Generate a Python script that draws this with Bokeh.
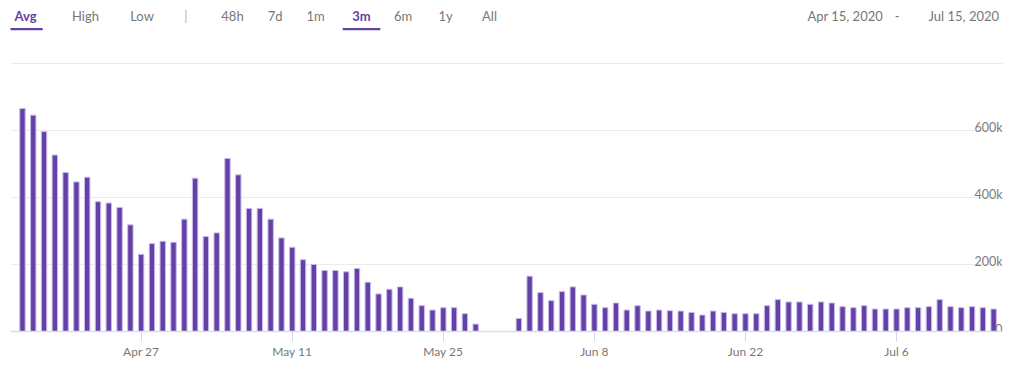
import math
import pandas as pd
from bokeh.plotting import figure
from bokeh.layouts import column
from bokeh.models import Range1d, FixedTicker, ColumnDataSource
from bokeh.core.properties import value
from bokeh.embed import file_html
from bokeh.resources import INLINE

# ---------------- data ----------------
start_date = "2020-04-16"
# average viewers (thousands), one bar per day; None = no data
viewers_k = [
    665, 645, 596, 526, 474, 446, 460, 387, 383, 370,
    318, 230, 262, 269, 266, 335, 457, 283, 294, 516,
    467, 367, 367, 335, 279, 251, 214, 200, 182, 182,
    178, 188, 147, 112, 126, 133, 99, 77, 64, 71,
    71, 53, 22, None, None, None, 39, 165, 116, 92,
    119, 133, 109, 81, 71, 85, 64, 77, 61, 64,
    62, 61, 57, 49, 61, 57, 53, 53, 53, 77,
    95, 88, 88, 81, 88, 85, 74, 71, 77, 67,
    67, 67, 71, 71, 74, 95, 74, 71, 74, 71,
    67,
]
x_tick_dates = ["2020-04-27", "2020-05-11", "2020-05-25", "2020-06-08", "2020-06-22", "2020-07-06"]
x_tick_labels = ["Apr 27", "May 11", "May 25", "Jun 8", "Jun 22", "Jul 6"]
y_ticks = [0, 200000, 400000, 600000]
y_tick_labels = ["0", "200k", "400k", "600k"]
grid_values = [200000, 400000, 600000, 800000]

nav_labels = ["Avg", "High", "Low", "|", "48h", "7d", "1m", "3m", "6m", "1y", "All"]
nav_active = ["Avg", "3m"]
range_labels = ["Apr 15, 2020", "-", "Jul 15, 2020"]

# ---------------- styles / layout ----------------
PURPLE = "#6441a5"
GRAY = "#777777"
FONT = "Lato"
DAY_MS = 86400000.0
W = 1016
FRAME_L, FRAME_R = 10, 1002   # page x of the plot frame (column aligns frames)

dates = pd.date_range(start_date, periods=len(viewers_k), freq="D")
vals = [v * 1000 if v is not None else math.nan for v in viewers_k]
src = ColumnDataSource(data=dict(date=dates, v=vals))

t0 = pd.Timestamp(start_date)
x_start = (t0 - pd.Timedelta(hours=26.6)).timestamp() * 1000
x_end = (t0 + pd.Timedelta(days=90.82)).timestamp() * 1000

# ---- navigation bar (pixel coordinates) ----
NAV_H = 48
nav = figure(width=W, height=NAV_H, x_range=Range1d(FRAME_L, FRAME_R), y_range=Range1d(0, NAV_H),
             x_axis_location=None, y_axis_location=None, toolbar_location=None,
             output_backend="svg", min_border=0, min_border_left=FRAME_L,
             min_border_right=W - FRAME_R, outline_line_color=None)
nav.grid.visible = False

TEXT_BASE = 15.0
UL_Y = 28.6
nav_x = [25, 85, 141.5, 185.5, 232, 274.7, 315, 361, 402.7, 445, 489]
nav_colors = [PURPLE if l in nav_active else ("#b0b0b0" if l == "|" else GRAY) for l in nav_labels]
nav_styles = ["bold" if l in nav_active else "normal" for l in nav_labels]
nav_src = ColumnDataSource(data=dict(x=nav_x, y=[NAV_H - TEXT_BASE] * len(nav_labels), t=nav_labels,
                                     c=nav_colors, s=nav_styles))
nav.text(x="x", y="y", text="t", text_color="c", text_font_style="s", source=nav_src,
         text_align="center", text_baseline="alphabetic",
         text_font=value(FONT), text_font_size="13px")

act_idx = [nav_labels.index(a) for a in nav_active]
ul_half = [17.2, 18.8]
nav.segment(x0=[nav_x[i] - h for i, h in zip(act_idx, ul_half)],
            x1=[nav_x[i] + h for i, h in zip(act_idx, ul_half)],
            y0=[NAV_H - UL_Y] * 2, y1=[NAV_H - UL_Y] * 2, line_color=PURPLE, line_width=2.2)

range_x = [844.7, 896.7, 963.3]
nav.text(x=range_x, y=[NAV_H - TEXT_BASE] * 3, text=range_labels,
         text_align="center", text_baseline="alphabetic", text_color=GRAY,
         text_font=value(FONT), text_font_size="13px")

# ---- main bar chart ----
p = figure(width=W, height=327, x_axis_type="datetime",
           x_range=Range1d(x_start, x_end), y_range=Range1d(0, 802000),
           y_axis_location=None, toolbar_location=None, output_backend="svg",
           min_border_left=FRAME_L, min_border_right=W - FRAME_R, min_border_top=14,
           min_border_bottom=44, outline_line_color=None)

p.xgrid.visible = False
p.ygrid.ticker = FixedTicker(ticks=grid_values)
p.ygrid.grid_line_color = "#ebebeb"
p.ygrid.grid_line_width = 1.2

p.vbar(x="date", top="v", width=0.5 * DAY_MS, source=src,
       fill_color=PURPLE, line_color="#c9b9ec", line_width=1)

p.text(x=[x_end] * len(y_ticks), y=y_ticks, text=y_tick_labels,
       text_align="right", text_baseline="alphabetic", y_offset=-3,
       text_color="#7d7d7d", text_font=value(FONT), text_font_size="12.5px")

xa = p.xaxis[0]
xa.ticker = FixedTicker(ticks=[pd.Timestamp(d).timestamp() * 1000 for d in x_tick_dates])
xa.major_label_overrides = {pd.Timestamp(d).timestamp() * 1000: l
                            for d, l in zip(x_tick_dates, x_tick_labels)}
xa.axis_line_color = "#d9ddf0"
xa.axis_line_width = 1.5
xa.major_tick_line_color = "#d3d8ef"
xa.major_tick_in = 0
xa.major_tick_out = 10
xa.minor_tick_out = 0
xa.minor_tick_in = 0
xa.major_label_standoff = 2
xa.major_label_text_font = FONT
xa.major_label_text_font_size = "12px"
xa.major_label_text_color = GRAY

layout = column(nav, p, spacing=0)
open("out.html", "w").write(file_html(layout, INLINE))
